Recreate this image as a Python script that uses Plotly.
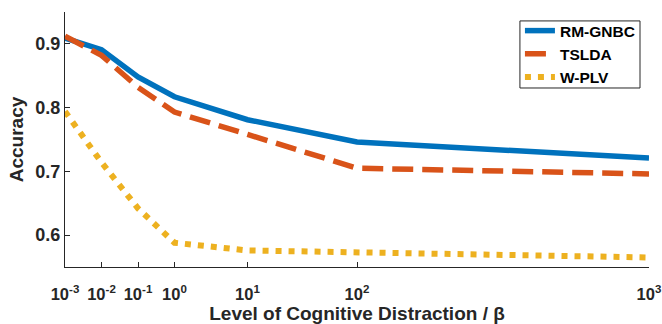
import plotly.graph_objects as go

# Distraction levels (beta) and their positions on the horizontal axis
beta_labels = ["10<sup>-3</sup>", "10<sup>-2</sup>", "10<sup>-1</sup>", "10<sup>0</sup>",
               "10<sup>1</sup>", "10<sup>2</sup>", "10<sup>3</sup>"]
beta_pos = [0, 1, 2, 3, 5, 8, 16]

# Accuracy per method
rm_gnbc = [0.909, 0.891, 0.848, 0.817, 0.781, 0.746, 0.721]
tslda = [0.912, 0.882, 0.832, 0.793, 0.758, 0.705, 0.696]
w_plv = [0.794, 0.714, 0.642, 0.588, 0.576, 0.573, 0.565]

# y tick labels
acc_ticks = [0.6, 0.7, 0.8, 0.9]

TXT = "#262626"
FONT = "Liberation Sans, Arial, sans-serif"

fig = go.Figure()
fig.add_trace(go.Scatter(x=beta_pos, y=rm_gnbc, mode="lines", name="<b>RM-GNBC</b>",
                         line=dict(color="#0072BD", width=5.5)))
fig.add_trace(go.Scatter(x=beta_pos, y=tslda, mode="lines", name="<b>TSLDA</b>",
                         line=dict(color="#D95319", width=5.5, dash="21px,9px")))
fig.add_trace(go.Scatter(x=beta_pos, y=w_plv, mode="lines", name="<b>W-PLV</b>",
                         line=dict(color="#EDB120", width=6, dash="6px,7px")))

# legend frame
fig.add_shape(type="rect", xref="paper", yref="paper",
              x0=0.779, x1=0.9846, y0=0.702, y1=0.965,
              line=dict(color=TXT, width=1), fillcolor="white", layer="above")

fig.update_layout(
    width=662, height=324,
    margin=dict(l=65, r=13, t=12, b=57),
    paper_bgcolor="white", plot_bgcolor="white",
    font=dict(family=FONT, color=TXT, size=15),
    showlegend=True,
    legend=dict(x=0.779, y=0.992, xanchor="left", yanchor="top",
                borderwidth=0, bgcolor="rgba(0,0,0,0)",
                font=dict(size=15.5, color="black"), tracegroupgap=0,
                itemwidth=30),
)
fig.update_xaxes(
    range=[0, 16], tickmode="array", tickvals=beta_pos,
    ticktext=["<b>" + t + "</b>" for t in beta_labels],
    ticks="inside", ticklen=5, tickcolor=TXT, showline=True, linecolor=TXT,
    linewidth=1, showgrid=False, zeroline=False, ticklabelstandoff=12,
    automargin=False,
    tickfont=dict(size=16.5, color=TXT),
    title=dict(text="<b>Level of Cognitive Distraction / β</b>",
               font=dict(size=19, color=TXT), standoff=9),
)
fig.update_yaxes(
    range=[0.55, 0.95], tickmode="array", tickvals=acc_ticks,
    ticktext=["<b>%.1f</b>" % v for v in acc_ticks],
    ticks="inside", ticklen=5, tickcolor=TXT, showline=True, linecolor=TXT,
    linewidth=1, showgrid=False, zeroline=False, automargin=False,
    tickfont=dict(size=18, color=TXT),
    title=dict(text="<b>Accuracy</b>", font=dict(size=19, color=TXT), standoff=6),
)

fig.write_html("out.html")
